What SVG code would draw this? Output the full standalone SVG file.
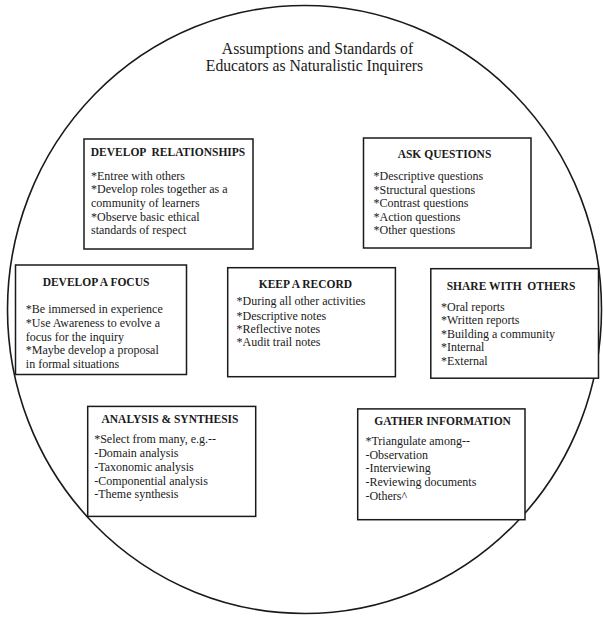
<svg xmlns="http://www.w3.org/2000/svg" width="603" height="620" viewBox="0 0 603 620">
<style>
.bg{fill:#fff}
.circ{fill:none;stroke:#1a1a1a;stroke-width:1.6}
.box{fill:#fff;stroke:#1a1a1a;stroke-width:1.5}
.title{font-family:"Liberation Serif",serif;font-size:15.7px;fill:#1a1a1a;text-anchor:middle}
.head{font-family:"Liberation Serif",serif;font-size:11.5px;font-weight:bold;fill:#1a1a1a;text-anchor:middle}
.item{font-family:"Liberation Serif",serif;font-size:12px;fill:#1a1a1a}
</style>
<rect class="bg" x="0" y="0" width="603" height="620"/>
<g id="frame">
<ellipse class="circ" cx="304.5" cy="309.5" rx="297" ry="304"/>
</g>
<g id="title">
<text class="title" x="317.5" y="54">Assumptions and Standards of</text>
<text class="title" x="314.5" y="70.5">Educators as Naturalistic Inquirers</text>
</g>
<g id="connectors"></g>
<g id="develop-relationships">
<rect class="box" x="84" y="139" width="169" height="110"/>
<text class="head" x="168" y="155.5" xml:space="preserve">DEVELOP  RELATIONSHIPS</text>
<text class="item" x="91" y="179.5">*Entree with others</text>
<text class="item" x="91" y="193.3">*Develop roles together as a</text>
<text class="item" x="91" y="207">community of learners</text>
<text class="item" x="91" y="220.7">*Observe basic ethical</text>
<text class="item" x="91" y="234.3">standards of respect</text>
</g>
<g id="ask-questions">
<rect class="box" x="363.5" y="138" width="167.5" height="110"/>
<text class="head" x="444.5" y="158">ASK QUESTIONS</text>
<text class="item" x="373.5" y="179.7">*Descriptive questions</text>
<text class="item" x="373.5" y="193.5">*Structural questions</text>
<text class="item" x="373.5" y="207">*Contrast questions</text>
<text class="item" x="373.5" y="220.7">*Action questions</text>
<text class="item" x="373.5" y="234.2">*Other questions</text>
</g>
<g id="develop-a-focus">
<rect class="box" x="15.5" y="265" width="171" height="109.5"/>
<text class="head" x="96" y="285.5">DEVELOP A FOCUS</text>
<text class="item" x="25.8" y="313.3">*Be immersed in experience</text>
<text class="item" x="25.8" y="327.1">*Use Awareness to evolve a</text>
<text class="item" x="25.8" y="340.5">focus for the inquiry</text>
<text class="item" x="25.8" y="354">*Maybe develop a proposal</text>
<text class="item" x="25.8" y="367.7">in formal situations</text>
</g>
<g id="keep-a-record">
<rect class="box" x="227.7" y="267.7" width="167.7" height="109"/>
<text class="head" x="305.4" y="287.5">KEEP A RECORD</text>
<text class="item" x="236.5" y="305.4">*During all other activities</text>
<text class="item" x="236.5" y="319.5">*Descriptive notes</text>
<text class="item" x="236.5" y="332.6">*Reflective notes</text>
<text class="item" x="236.5" y="346.4">*Audit trail notes</text>
</g>
<g id="share-with-others">
<rect class="box" x="430.8" y="268.7" width="167.7" height="109.5"/>
<text class="head" x="511" y="290" xml:space="preserve">SHARE WITH  OTHERS</text>
<text class="item" x="441" y="310.6">*Oral reports</text>
<text class="item" x="441" y="324">*Written reports</text>
<text class="item" x="441" y="337.8">*Building a community</text>
<text class="item" x="441" y="351.2">*Internal</text>
<text class="item" x="441" y="364.6">*External</text>
</g>
<g id="analysis-synthesis">
<rect class="box" x="87.7" y="406.4" width="168" height="110"/>
<text class="head" x="170" y="422.5">ANALYSIS &amp; SYNTHESIS</text>
<text class="item" x="94.2" y="443.2">*Select from many, e.g.--</text>
<text class="item" x="94.2" y="456.9">-Domain analysis</text>
<text class="item" x="94.2" y="470.7">-Taxonomic analysis</text>
<text class="item" x="94.2" y="484.5">-Componential analysis</text>
<text class="item" x="94.2" y="498.3">-Theme synthesis</text>
</g>
<g id="gather-information">
<rect class="box" x="357.7" y="408.9" width="167.3" height="110.8"/>
<text class="head" x="442.6" y="425">GATHER INFORMATION</text>
<text class="item" x="365.4" y="444.9">*Triangulate among--</text>
<text class="item" x="365.4" y="458.7">-Observation</text>
<text class="item" x="365.4" y="472.4">-Interviewing</text>
<text class="item" x="365.4" y="486.2">-Reviewing documents</text>
<text class="item" x="365.4" y="499.6">-Others^</text>
</g>
</svg>
